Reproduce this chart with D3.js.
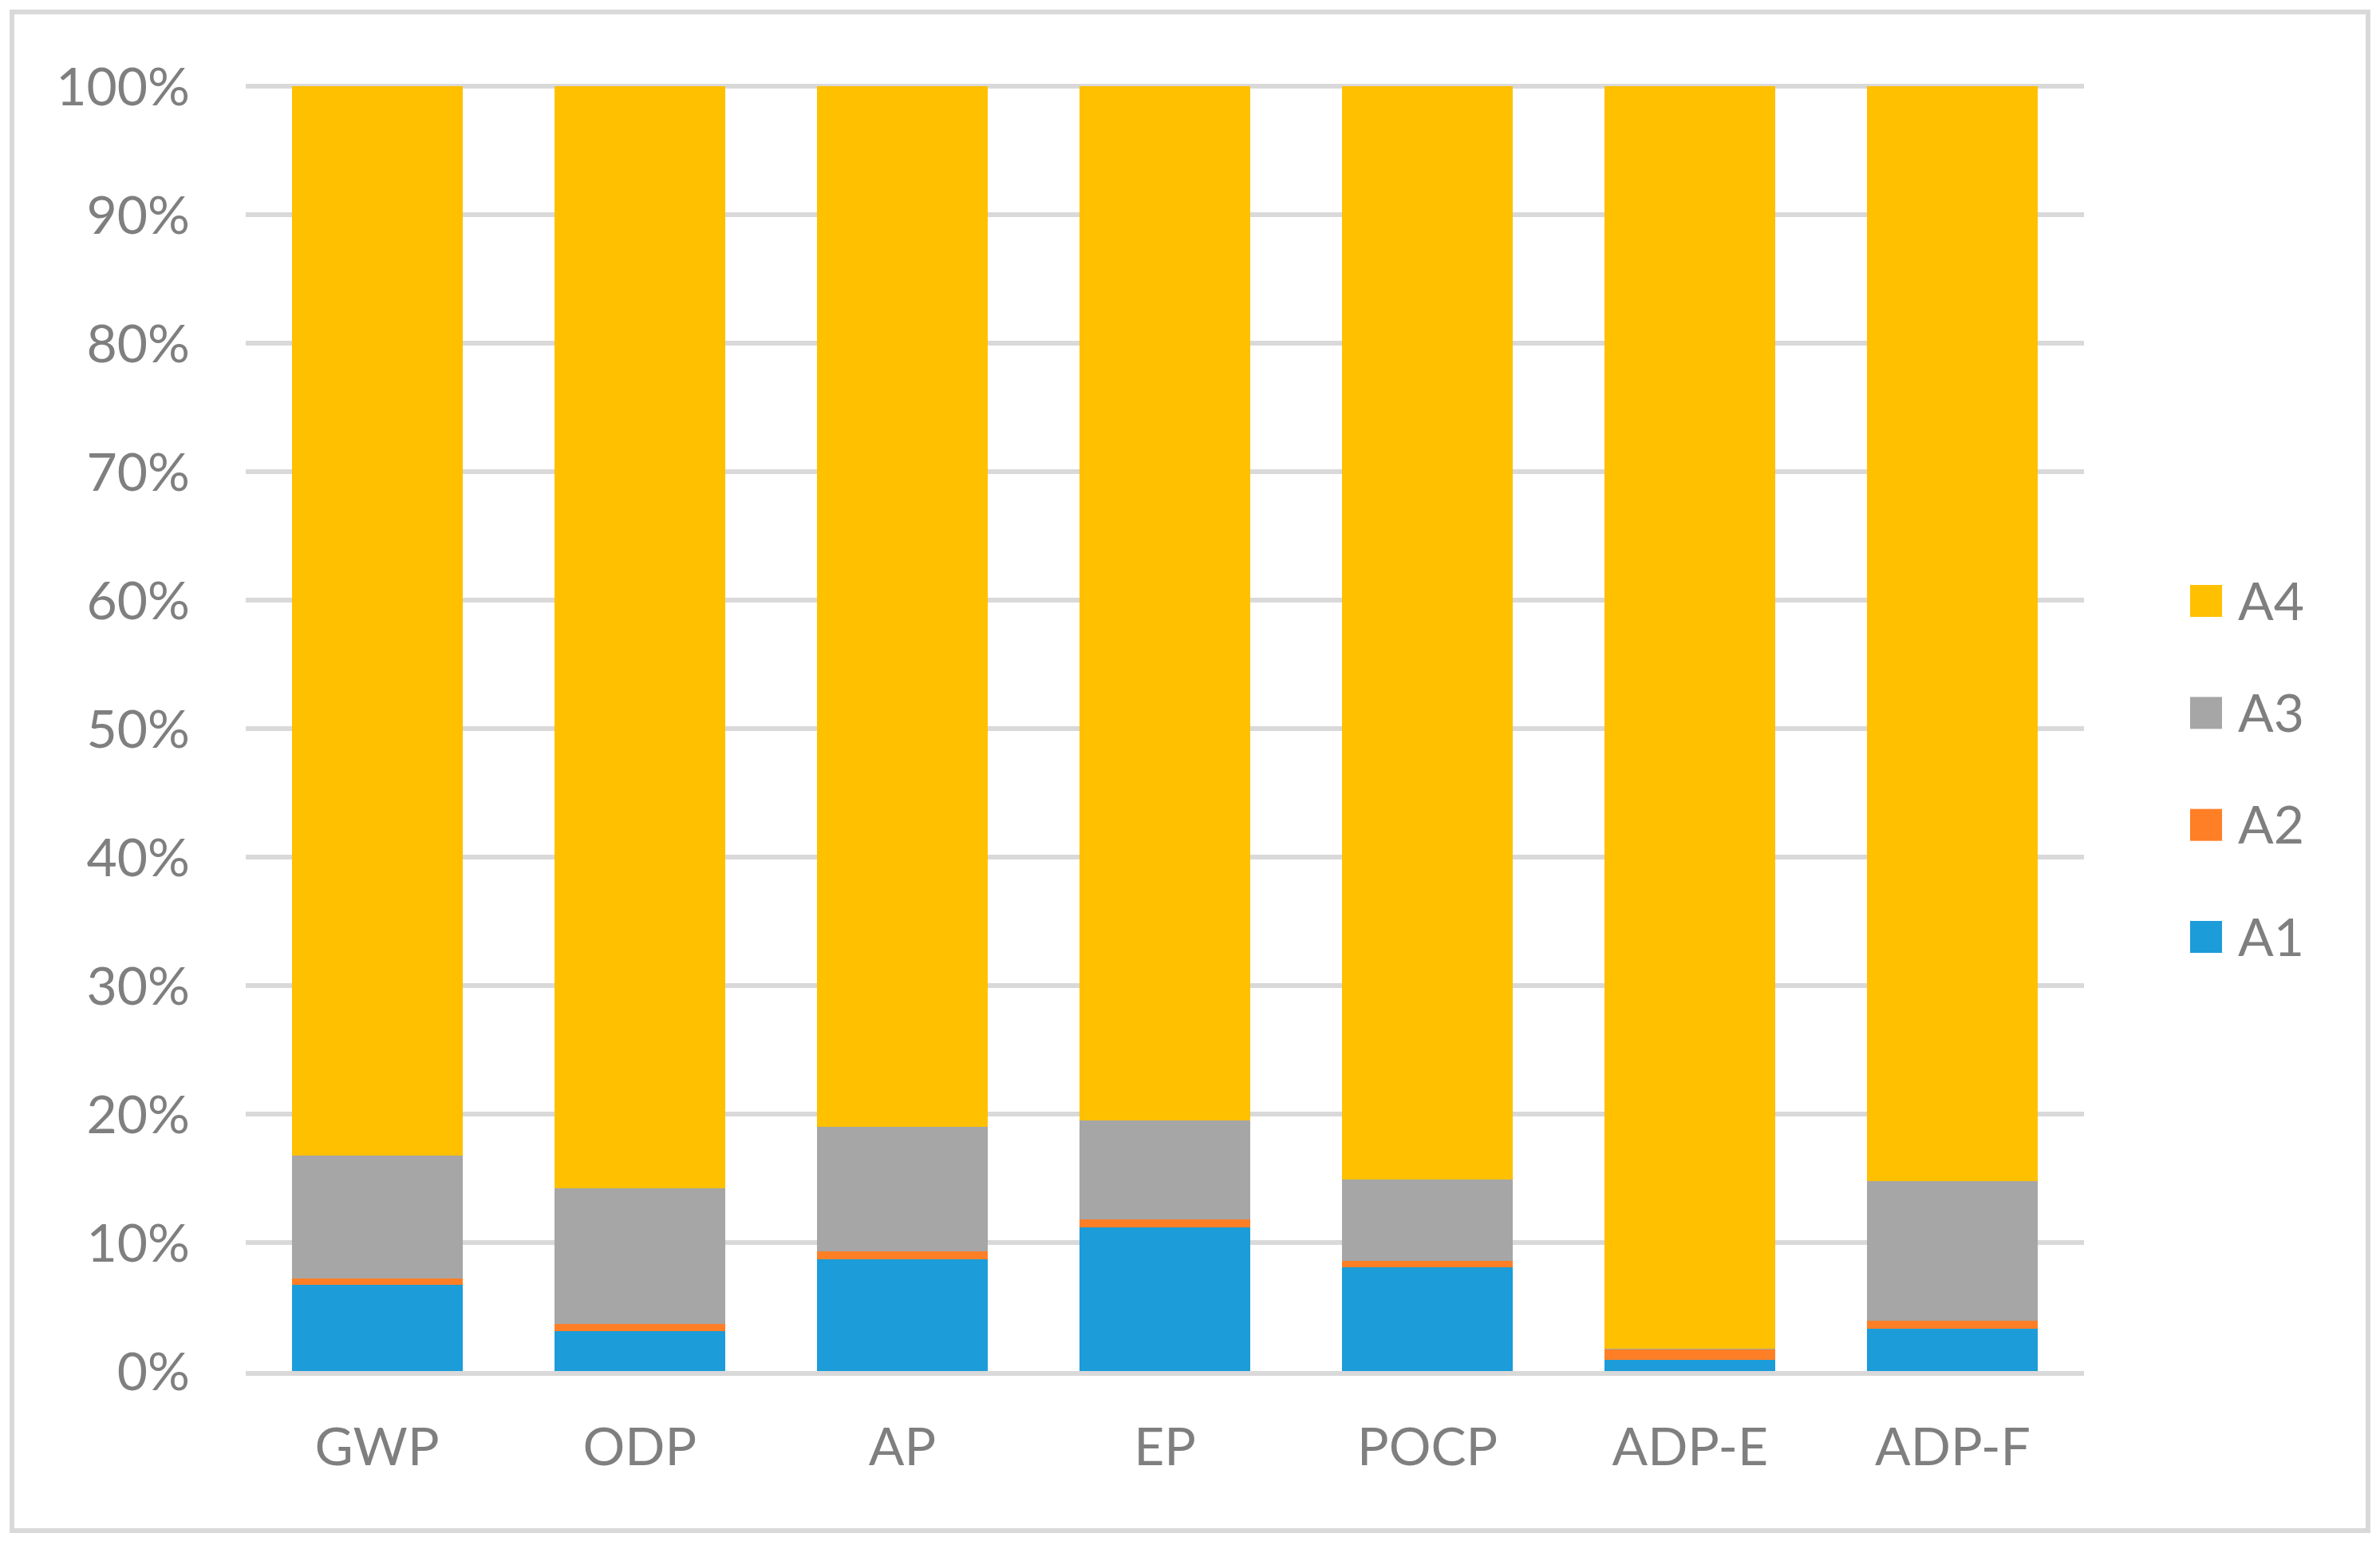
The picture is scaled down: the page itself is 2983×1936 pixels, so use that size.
<!DOCTYPE html>
<html>
<head>
<meta charset="utf-8">
<script src="https://cdn.jsdelivr.net/npm/d3@7"></script>
<style>
  html, body { margin: 0; padding: 0; background: #ffffff; }
  text { font-family: Lato, "Open Sans", sans-serif; fill: #7f7f7f; }
</style>
</head>
<body>
<script>
// chart data (percent of total)
var categories = ["GWP", "ODP", "AP", "EP", "POCP", "ADP-E", "ADP-F"];
var seriesNames = ["A1", "A2", "A3", "A4"];
var a1 = [6.7, 3.1, 8.7, 11.2, 8.1, 0.9, 3.3];
var a2 = [0.5, 0.55, 0.6, 0.6, 0.5, 0.75, 0.6];
var a3 = [9.6, 10.6, 9.7, 7.7, 6.3, 0.1, 10.9];
var a4 = [83.2, 85.75, 81.0, 80.5, 85.1, 98.25, 85.2];
var yTicks = [0, 10, 20, 30, 40, 50, 60, 70, 80, 90, 100];
var colors = ["#1c9cd8", "#fe7f26", "#a6a6a6", "#ffc000"];

function draw_chart() {
    var width = 2983;
    var height = 1936;

    var svg = d3.select("body").append("svg")
                .attr("width", width)
                .attr("height", height);

    // outer chart border
    svg.append("rect")
        .attr("x", 15).attr("y", 15)
        .attr("width", 2953).attr("height", 1903)
        .attr("fill", "#ffffff")
        .attr("stroke", "#d9d9d9")
        .attr("stroke-width", 6);

    var plot = { left: 308, right: 2612, top: 108, bottom: 1718 };

    var x = d3.scaleBand()
              .domain(categories)
              .range([plot.left, plot.right])
              .paddingInner(0.35)
              .paddingOuter(0.175);

    var y = d3.scaleLinear()
              .domain([0, 100])
              .range([plot.bottom, plot.top]);

    // gridlines
    svg.append("g")
        .selectAll("line")
        .data(yTicks)
        .enter()
        .append("line")
        .attr("x1", plot.left)
        .attr("x2", plot.right)
        .attr("y1", function(d) { return y(d) + (d === 0 ? 3 : 0); })
        .attr("y2", function(d) { return y(d) + (d === 0 ? 3 : 0); })
        .attr("stroke", "#d9d9d9")
        .attr("stroke-width", 6);

    // stacked bars
    var rows = categories.map(function(c, i) {
        return { cat: c, A1: a1[i], A2: a2[i], A3: a3[i], A4: a4[i] };
    });
    var stacked = d3.stack().keys(seriesNames)(rows);

    svg.append("g")
        .selectAll("g")
        .data(stacked)
        .enter()
        .append("g")
        .attr("fill", function(d, i) { return colors[i]; })
        .selectAll("rect")
        .data(function(d) { return d; })
        .enter()
        .append("rect")
        .attr("x", function(d) { return x(d.data.cat); })
        .attr("width", x.bandwidth())
        .attr("y", function(d) { return y(Math.min(d[1], 100)); })
        .attr("height", function(d) { return y(d[0]) - y(Math.min(d[1], 100)); })
        .attr("shape-rendering", "crispEdges");

    // y axis labels
    var yAxis = d3.axisLeft(y)
                  .tickValues(yTicks)
                  .tickSize(0)
                  .tickPadding(0)
                  .tickFormat(function(d) { return d + "%"; });
    var gy = svg.append("g")
                .attr("transform", "translate(238,0)")
                .call(yAxis);
    gy.select(".domain").remove();
    gy.selectAll("text")
        .attr("font-size", 66)
        .attr("dy", "0.36em")
        .style("font-family", "Lato, sans-serif")
        .attr("fill", "#7f7f7f");

    // x axis labels
    var xAxis = d3.axisBottom(x).tickSize(0).tickPadding(0);
    var gx = svg.append("g")
                .attr("transform", "translate(0,1836)")
                .call(xAxis);
    gx.select(".domain").remove();
    gx.selectAll("text")
        .attr("font-size", 66)
        .attr("dy", 0)
        .style("font-family", "Lato, sans-serif")
        .attr("fill", "#7f7f7f");

    // legend, A4 on top
    var legendY = d3.scalePoint()
                    .domain(seriesNames.slice().reverse())
                    .range([753, 1174]);

    var legend = svg.append("g")
                    .selectAll("g")
                    .data(seriesNames)
                    .enter()
                    .append("g")
                    .attr("transform", function(d) { return "translate(2745," + legendY(d) + ")"; });

    legend.append("rect")
        .attr("x", 0).attr("y", -20)
        .attr("width", 40).attr("height", 40)
        .attr("fill", function(d, i) { return colors[i]; });

    legend.append("text")
        .attr("x", 60)
        .attr("dy", "0.36em")
        .attr("font-size", 66)
        .text(function(d) { return d; });
}

document.addEventListener("DOMContentLoaded", draw_chart());
</script>
</body>
</html>
